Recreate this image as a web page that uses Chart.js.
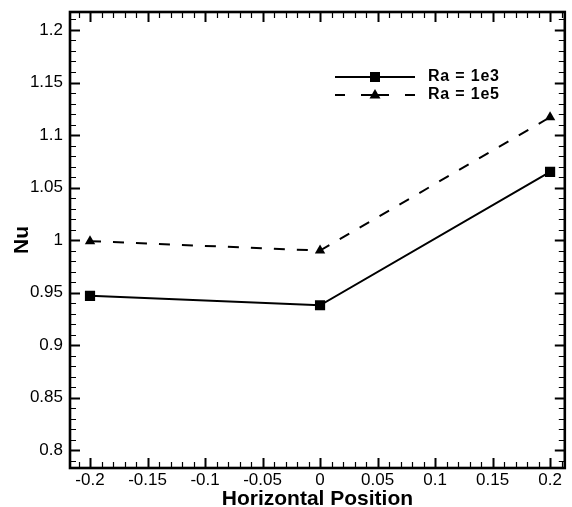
<!DOCTYPE html>
<html>
<head>
<meta charset="utf-8">
<style>
  html, body { margin: 0; padding: 0; background: #fff; }
  #wrap { width: 572px; height: 507px; }
</style>
<script src="https://cdn.jsdelivr.net/npm/chart.js@4.4.1/dist/chart.umd.min.js"></script>
</head>
<body>
<div id="wrap"><canvas id="c" width="572" height="507"></canvas></div>
<script>
// Nusselt number at three horizontal positions for two Rayleigh numbers
const positions = [-0.2, 0, 0.2];
const nuRa1e3 = [0.947, 0.938, 1.065];
const nuRa1e5 = [0.999, 0.990, 1.117];
const seriesNames = ['Ra = 1e3', 'Ra = 1e5'];

const FONT = '"Liberation Sans", Arial, Helvetica, sans-serif';

function fmt(v) {
  return String(parseFloat(Number(v).toFixed(3)));
}

// Frame with inward major/minor ticks on all four sides, plus the inset legend
const framePlugin = {
  id: 'frame',
  afterDatasetsDraw(chart) {
    const { ctx, chartArea: a, scales } = chart;
    const xs = scales.x, ys = scales.y;
    ctx.save();
    ctx.strokeStyle = '#000';

    const minorStep = 0.01;
    const isMajor = v => Math.abs(v / 0.05 - Math.round(v / 0.05)) < 1e-6;

    // x ticks (bottom and top)
    for (let k = Math.ceil(xs.min / minorStep - 1e-9); k * minorStep <= xs.max + 1e-9; k++) {
      const v = k * minorStep;
      const px = Math.round(xs.getPixelForValue(v)) + 0.5;
      const major = isMajor(v);
      const len = major ? 10 : 6;
      ctx.lineWidth = major ? 2 : 1.2;
      ctx.beginPath();
      ctx.moveTo(px, a.bottom); ctx.lineTo(px, a.bottom - len);
      ctx.moveTo(px, a.top); ctx.lineTo(px, a.top + len);
      ctx.stroke();
    }
    // y ticks (left and right)
    for (let k = Math.ceil(ys.min / minorStep - 1e-9); k * minorStep <= ys.max + 1e-9; k++) {
      const v = k * minorStep;
      const py = Math.round(ys.getPixelForValue(v)) + 0.5;
      const major = isMajor(v);
      const len = major ? 10 : 6;
      ctx.lineWidth = major ? 2 : 1.2;
      ctx.beginPath();
      ctx.moveTo(a.left, py); ctx.lineTo(a.left + len, py);
      ctx.moveTo(a.right, py); ctx.lineTo(a.right - len, py);
      ctx.stroke();
    }

    // frame
    ctx.lineWidth = 2.6;
    ctx.strokeRect(a.left, a.top, a.right - a.left, a.bottom - a.top);

    // legend
    const lx0 = 335, lx1 = 415, lmid = 375, tx = 428;
    const rows = [77, 95];
    ctx.lineWidth = 2;
    // row 1: solid line, square
    ctx.setLineDash([]);
    ctx.beginPath();
    ctx.moveTo(lx0, rows[0]); ctx.lineTo(lx1, rows[0]);
    ctx.stroke();
    ctx.fillStyle = '#000';
    ctx.fillRect(lmid - 5, rows[0] - 5, 10, 10);
    // row 2: dashed line, triangle
    ctx.setLineDash([14, 16]);
    ctx.beginPath();
    ctx.moveTo(lmid, rows[1]); ctx.lineTo(lx0, rows[1]);
    ctx.moveTo(lmid, rows[1]); ctx.lineTo(lx1, rows[1]);
    ctx.stroke();
    ctx.setLineDash([]);
    ctx.beginPath();
    ctx.moveTo(lmid, rows[1] - 6);
    ctx.lineTo(lmid + 5.5, rows[1] + 3.5);
    ctx.lineTo(lmid - 5.5, rows[1] + 3.5);
    ctx.closePath();
    ctx.fill();

    ctx.font = 'bold 16px ' + FONT;
    if ('letterSpacing' in ctx) ctx.letterSpacing = '0.8px';
    ctx.textAlign = 'left';
    ctx.textBaseline = 'middle';
    ctx.fillText(seriesNames[0], tx, rows[0]);
    ctx.fillText(seriesNames[1], tx, rows[1]);
    ctx.restore();
  }
};

new Chart(document.getElementById('c'), {
  type: 'line',
  data: {
    datasets: [
      {
        label: seriesNames[0],
        data: positions.map((x, i) => ({ x, y: nuRa1e3[i] })),
        borderColor: '#000',
        backgroundColor: '#000',
        borderWidth: 2,
        pointStyle: 'rect',
        pointRadius: 7.2,
        pointBorderWidth: 0,
        tension: 0
      },
      {
        label: seriesNames[1],
        data: positions.map((x, i) => ({ x, y: nuRa1e5[i] })),
        borderColor: '#000',
        backgroundColor: '#000',
        borderWidth: 2,
        borderDash: [11, 12],
        pointStyle: 'triangle',
        pointRadius: 6,
        pointBorderWidth: 0,
        tension: 0
      }
    ]
  },
  options: {
    responsive: false,
    animation: false,
    devicePixelRatio: 1,
    layout: { padding: { left: 0, top: 12, right: 7, bottom: 0 } },
    plugins: { legend: { display: false }, tooltip: { enabled: false } },
    elements: { line: { fill: false } },
    scales: {
      x: {
        type: 'linear',
        min: -0.2174,
        max: 0.2128,
        afterFit(s) { s.height = 39; s.paddingLeft = 0; s.paddingRight = 0; },
        grid: { display: false, drawTicks: false },
        border: { display: false },
        ticks: {
          stepSize: 0.05,
          includeBounds: false,
          autoSkip: false,
          maxRotation: 0,
          padding: 2,
          color: '#000',
          font: { family: FONT, size: 17 },
          callback: v => fmt(v)
        },
        title: {
          display: true,
          text: 'Horizontal Position',
          color: '#000',
          padding: { top: 0, bottom: 0 },
          font: { family: FONT, size: 21, weight: 'bold', lineHeight: 0.75 }
        }
      },
      y: {
        type: 'linear',
        min: 0.7831,
        max: 1.2171,
        afterFit(s) { s.width = 70; s.paddingTop = 0; s.paddingBottom = 0; },
        grid: { display: false, drawTicks: false },
        border: { display: false },
        ticks: {
          stepSize: 0.05,
          includeBounds: false,
          autoSkip: false,
          padding: 7,
          color: '#000',
          font: { family: FONT, size: 17 },
          callback: v => fmt(v)
        },
        title: {
          display: true,
          text: 'Nu',
          color: '#000',
          padding: { top: 10, bottom: 0 },
          font: { family: FONT, size: 21, weight: 'bold', lineHeight: 1.2 }
        }
      }
    }
  },
  plugins: [framePlugin]
});
</script>
</body>
</html>
